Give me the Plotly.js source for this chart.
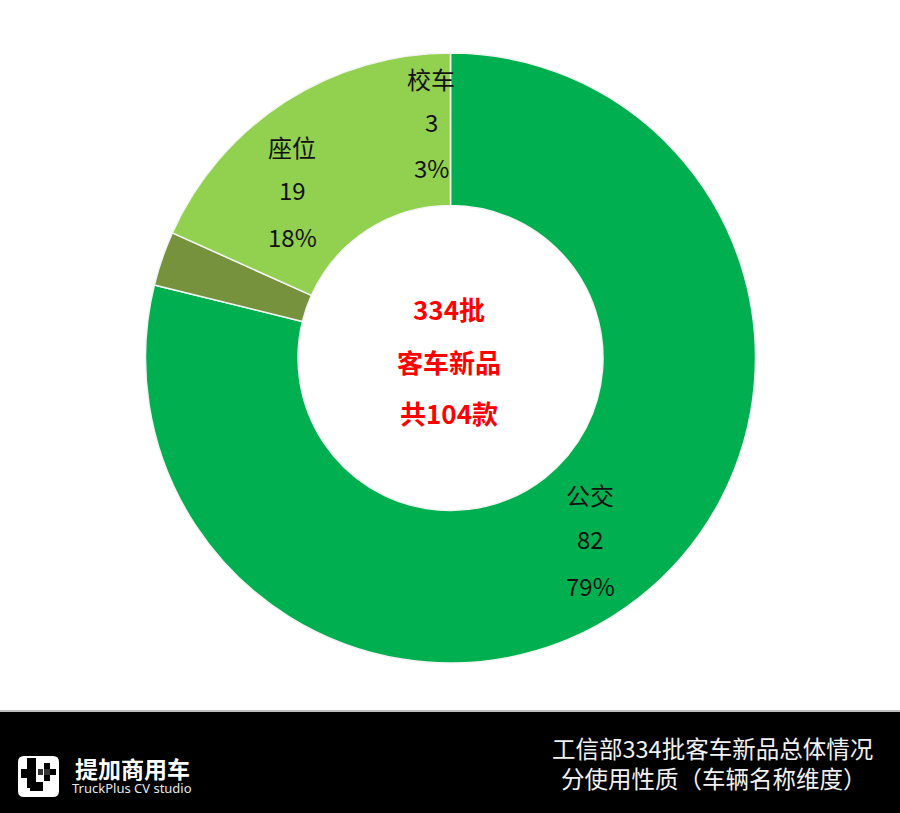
<!DOCTYPE html>
<html><head><meta charset="utf-8">
<script src="https://cdn.plot.ly/plotly-3.0.1.min.js"></script>
<style>html,body{margin:0;padding:0;background:#fff}#c{width:900px;height:813px}</style>
</head><body><div id="c"></div>
<script>
const categories = ['公交','校车','座位'];
const values = [82,3,19];
const percents = ['79%','3%','18%'];
const colors = ['#00B050','#76923C','#92D050'];
const centerLines = ['334批','客车新品','共104款'];
const footerLines = ['工信部334批客车新品总体情况','分使用性质（车辆名称维度）'];
const W=900,H=813;
const FONT='"Noto Sans CJK SC","Noto Sans",sans-serif';
const px=x=>x/W, py=y=>1-y/H;
const ann=[];
function t(x,y,text,size,color,extra){ann.push(Object.assign({xref:'paper',yref:'paper',x:px(x),y:py(y),text,showarrow:false,
  xanchor:'center',yanchor:'middle',font:{family:FONT,size,color}},extra||{}));}
const labelPos={'公交':[590,[494,538,585]],'座位':[292,[146,190,236]],'校车':[431,[78,122,168]]};
categories.forEach((c,i)=>{const p=labelPos[c];
  t(p[0],p[1][0],c,24,'#111');
  t(p[0],p[1][1],String(values[i]),24,'#111');
  t(p[0],p[1][2],percents[i],24,'#111');});
[309,361,412].forEach((y,i)=>t(449,y,'<b>'+centerLines[i]+'</b>',26,'#FF0000'));
t(712,748,footerLines[0],23.5,'#F2F2F2');
t(714,778,footerLines[1],23.5,'#F2F2F2');
t(132,768,'<b>提加商用车</b>',23,'#FFFFFF');
t(132,788,'TruckPlus CV studio',13,'#E8E8E8',{font:{family:'"Noto Sans",sans-serif',size:13,color:'#E8E8E8'}});
const r=(x0,y0,x1,y1,c,extra)=>Object.assign({type:'rect',xref:'paper',yref:'paper',x0:px(x0),x1:px(x1),y0:py(y0),y1:py(y1),fillcolor:c,line:{width:0},layer:'below'},extra||{});
const shapes=[
  r(0,712,900,813,'#000000'),
  r(0,710,900,712,'#BDBDBD'),
  {type:'path',xref:'paper',yref:'paper',fillcolor:'#FFFFFF',line:{width:0},layer:'below',
   path:`M ${px(24)} ${py(756)} L ${px(53)} ${py(756)} Q ${px(59)} ${py(756)} ${px(59)} ${py(762)} L ${px(59)} ${py(791)} Q ${px(59)} ${py(797)} ${px(53)} ${py(797)} L ${px(24)} ${py(797)} Q ${px(18)} ${py(797)} ${px(18)} ${py(791)} L ${px(18)} ${py(762)} Q ${px(18)} ${py(756)} ${px(24)} ${py(756)} Z`},
  r(27,758,36,788,'#000000'),
  r(21,769,36,778,'#000000'),
  r(30,782,43,791,'#000000'),
  r(38,769,43,775,'#333333'),
  r(44,763,50,769,'#000000'),
  r(44,769,50,775,'#333333'),
  r(44,775,50,781,'#000000'),
  r(50,769,56,775,'#000000')
];
Plotly.newPlot('c',[{type:'pie',labels:categories,values:values,hole:0.5,sort:false,direction:'clockwise',rotation:0,
  marker:{colors:[colors[0],colors[2],colors[1]].map((_,i)=>colors[i]),line:{color:'#F4F4F4',width:1.5}},
  textinfo:'none',hoverinfo:'skip',showlegend:false,
  domain:{x:[px(145.5),px(755.5)],y:[py(663),py(53)]}}],
  {width:W,height:H,margin:{l:0,r:0,t:0,b:0},paper_bgcolor:'#FFFFFF',plot_bgcolor:'#FFFFFF',showlegend:false,annotations:ann,shapes:shapes},
  {displayModeBar:false,staticPlot:true});
</script></body></html>
